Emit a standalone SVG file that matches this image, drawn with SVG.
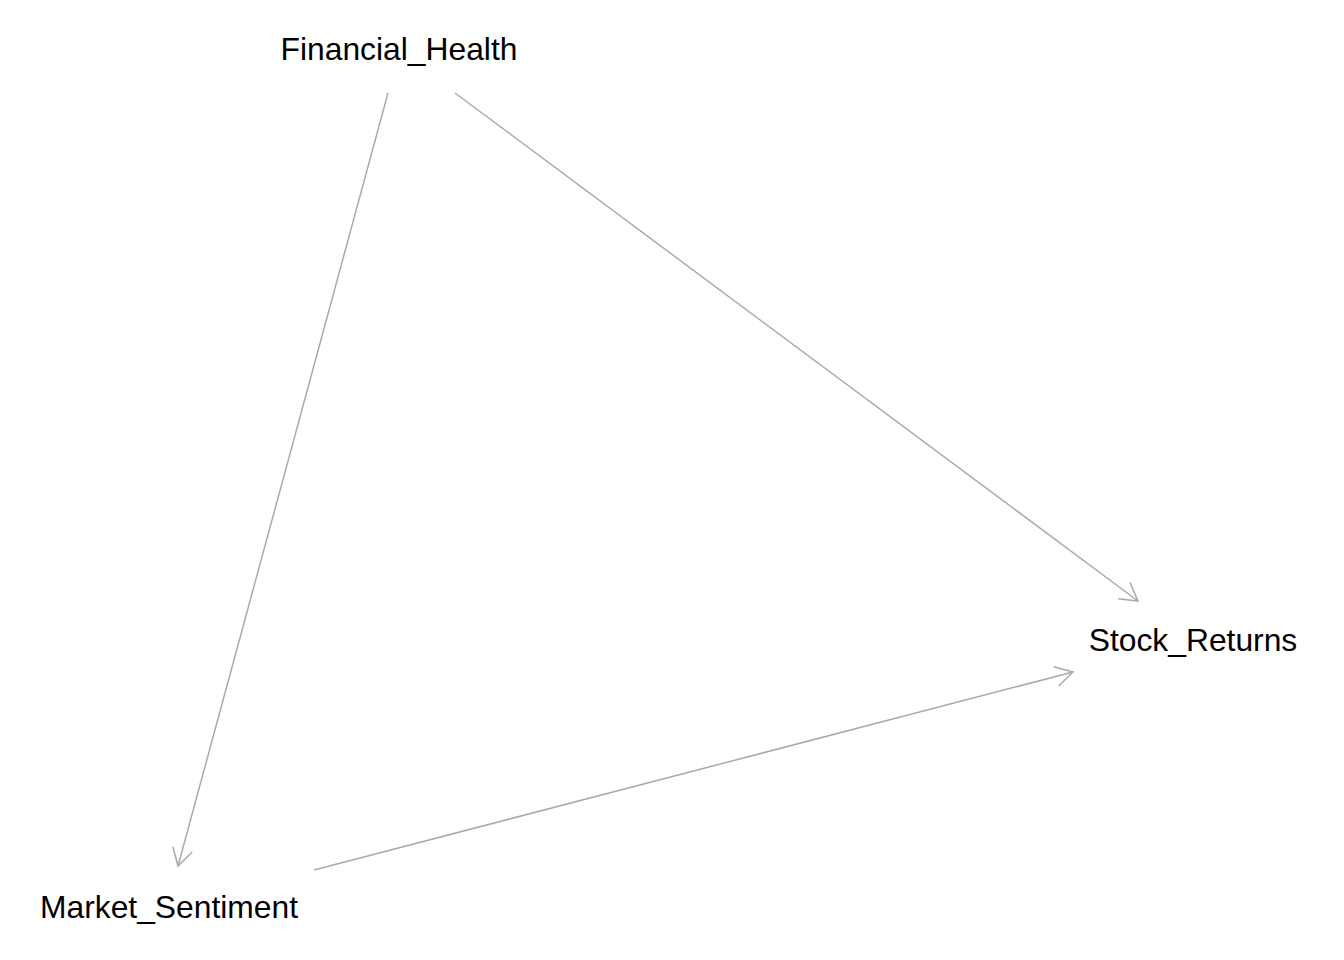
<svg xmlns="http://www.w3.org/2000/svg" width="1344" height="960" viewBox="0 0 1344 960">
<defs>
<style>
.lbl{font-family:"Liberation Sans",Arial,sans-serif;font-size:31.8px;fill:#000;text-anchor:middle}
.edge{stroke:#aaaaaa;stroke-width:1.5;fill:none}
</style>
<marker id="arr" markerUnits="userSpaceOnUse" markerWidth="40" markerHeight="40" refX="0" refY="0" orient="auto" overflow="visible" viewBox="-20 -20 40 40">
<path d="M-17.3,-10 L0,0 L-17.3,10" fill="none" stroke="#aaaaaa" stroke-width="1.5"/>
</marker>
</defs>
<rect width="1344" height="960" fill="#ffffff"/>
<g id="connectors">
<line class="edge" x1="388" y1="93" x2="178" y2="866" marker-end="url(#arr)"/>
<line class="edge" x1="455" y1="93" x2="1138" y2="601" marker-end="url(#arr)"/>
<line class="edge" x1="314" y1="870" x2="1073" y2="672" marker-end="url(#arr)"/>
</g>
<g id="Financial_Health"><text class="lbl" x="399" y="60">Financial_Health</text></g>
<g id="Stock_Returns"><text class="lbl" x="1193" y="651">Stock_Returns</text></g>
<g id="Market_Sentiment"><text class="lbl" x="169" y="918">Market_Sentiment</text></g>
</svg>
